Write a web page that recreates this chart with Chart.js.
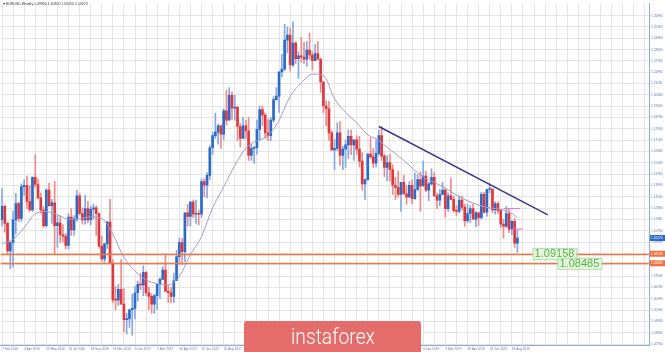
<!DOCTYPE html>
<html lang="en">
<head>
<meta charset="UTF-8">
<title>EURUSD Weekly</title>
<style>
  body{margin:0;background:#fff;}
  .wrap{position:relative;width:665px;height:352px;overflow:hidden;}
  .title{position:absolute;left:3px;top:2px;font:3.5px "Liberation Sans",sans-serif;color:#333;white-space:nowrap;}
  .logo{position:absolute;left:244px;top:321px;width:177px;height:40px;background:#e46c6b;border-radius:3px;text-align:center;}
  .logo span{display:inline-block;color:#fff;font:300 22px Roboto,sans-serif;line-height:31px;transform-origin:center;}
</style>
<script src="https://cdn.jsdelivr.net/npm/chart.js"></script>
</head>
<body>
<div class="wrap">
  <canvas id="c"></canvas>
  <div class="title">&#9662; EURUSD,Weekly  1.09900 1.10850 1.09250 1.10270</div>
  <div class="logo"><span id="logo">instaforex</span></div>
</div>
<script>
"use strict";

// weekly candles, 7 Feb 2016 .. 1 Sep 2019
const opens = [
1.1156,1.1250,1.1130,1.0935,1.0995,1.1155,1.1270,1.1165,1.1390,1.1400,1.1285,1.1225,1.1455,1.1405,1.1310,1.1225,
1.1115,1.1365,1.1255,1.1275,1.1115,1.1135,1.1050,1.1040,1.0975,1.1175,1.1085,1.1160,1.1325,1.1200,1.1155,1.1235,
1.1155,1.1230,1.1240,1.1200,1.0970,1.0880,1.0985,1.1140,1.0850,1.0590,1.0588,1.0665,1.0560,1.0450,1.0455,1.0520,
1.0530,1.0640,1.0700,1.0695,1.0785,1.0640,1.0615,1.0560,1.0620,1.0700,1.0735,1.0800,1.0650,1.0640,1.0615,1.0725,
1.0895,1.0995,1.0930,1.1205,1.1180,1.1280,1.1195,1.1197,1.1195,1.1425,1.1400,1.1470,1.1665,1.1750,1.1775,1.1820,
1.1760,1.1925,1.1860,1.2035,1.1945,1.1950,1.1815,1.1730,1.1820,1.1785,1.1610,1.1660,1.1665,1.1795,1.1935,1.1895,
1.1770,1.1750,1.1860,1.2005,1.2030,1.2200,1.2220,1.2425,1.2460,1.2250,1.2405,1.2295,1.2315,1.2305,1.2290,1.2355,
1.2320,1.2280,1.2330,1.2290,1.2130,1.1960,1.1940,1.1770,1.1650,1.1660,1.1770,1.1610,1.1655,1.1685,1.1745,1.1685,
1.1720,1.1655,1.1570,1.1410,1.1440,1.1620,1.1600,1.1555,1.1625,1.1750,1.1605,1.1525,1.1560,1.1510,1.1400,1.1385,
1.1335,1.1420,1.1340,1.1315,1.1400,1.1305,1.1370,1.1440,1.1395,1.1465,1.1365,1.1410,1.1455,1.1325,1.1295,1.1335,
1.1365,1.1235,1.1325,1.1300,1.1220,1.1215,1.1295,1.1245,1.1150,1.1200,1.1235,1.1160,1.1205,1.1170,1.1335,1.1210,
1.1370,1.1372,1.1225,1.1270,1.1220,1.1125,1.1110,1.1200,1.1090,1.1145,1.0990];
const highs = [
1.1376,1.1260,1.1140,1.1000,1.1218,1.1342,1.1280,1.1410,1.1438,1.1465,1.1400,1.1460,1.1616,1.1445,1.1345,1.1250,
1.1375,1.1415,1.1300,1.1427,1.1185,1.1185,1.1120,1.1060,1.1200,1.1235,1.1185,1.1365,1.1345,1.1240,1.1330,1.1285,
1.1255,1.1265,1.1255,1.1205,1.1040,1.0990,1.1145,1.1300,1.0875,1.0685,1.0700,1.0875,1.0670,1.0495,1.0525,1.0630,
1.0685,1.0720,1.0775,1.0830,1.0790,1.0680,1.0635,1.0630,1.0700,1.0745,1.0825,1.0905,1.0695,1.0680,1.0780,1.0940,
1.1025,1.1025,1.1205,1.1265,1.1285,1.1295,1.1295,1.1225,1.1445,1.1445,1.1490,1.1680,1.1775,1.1910,1.1830,1.1825,
1.1940,1.2070,1.2090,1.2060,1.2035,1.1960,1.1835,1.1880,1.1860,1.1880,1.1690,1.1675,1.1860,1.1960,1.1960,1.1910,
1.1865,1.1880,1.2025,1.2090,1.2205,1.2325,1.2537,1.2520,1.2510,1.2555,1.2415,1.2345,1.2445,1.2410,1.2415,1.2475,
1.2345,1.2395,1.2415,1.2300,1.2130,1.1995,1.1995,1.1785,1.1725,1.1840,1.1850,1.1675,1.1720,1.1790,1.1790,1.1720,
1.1750,1.1745,1.1630,1.1445,1.1625,1.1735,1.1660,1.1720,1.1790,1.1815,1.1620,1.1610,1.1620,1.1545,1.1455,1.1500,
1.1420,1.1470,1.1400,1.1425,1.1440,1.1485,1.1475,1.1495,1.1570,1.1500,1.1420,1.1515,1.1490,1.1345,1.1370,1.1420,
1.1375,1.1345,1.1450,1.1325,1.1255,1.1325,1.1325,1.1265,1.1265,1.1255,1.1265,1.1215,1.1210,1.1350,1.1350,1.1375,
1.1412,1.1375,1.1285,1.1285,1.1230,1.1160,1.1250,1.1230,1.1150,1.1165,1.1085];
const lows = [
1.1112,1.1068,1.0915,1.0810,1.0822,1.1055,1.1145,1.1145,1.1330,1.1235,1.1215,1.1215,1.1385,1.1305,1.1200,1.1100,
1.1105,1.1250,1.1130,1.0912,1.0960,1.0995,1.1000,1.0950,1.0950,1.1045,1.1045,1.1145,1.1190,1.1125,1.1125,1.1135,
1.1120,1.1160,1.1045,1.0955,1.0860,1.0855,1.0950,1.0850,1.0570,1.0520,1.0550,1.0560,1.0365,1.0350,1.0395,1.0340,
1.0455,1.0580,1.0660,1.0620,1.0620,1.0520,1.0495,1.0495,1.0525,1.0600,1.0735,1.0650,1.0570,1.0570,1.0570,1.0725,
1.0840,1.0840,1.0860,1.1110,1.1110,1.1170,1.1130,1.1120,1.1170,1.1315,1.1310,1.1440,1.1615,1.1730,1.1690,1.1660,
1.1720,1.1825,1.1860,1.1865,1.1860,1.1715,1.1670,1.1730,1.1730,1.1575,1.1575,1.1555,1.1620,1.1715,1.1820,1.1730,
1.1715,1.1715,1.1845,1.2000,1.1915,1.2165,1.2210,1.2335,1.2205,1.2235,1.2260,1.2155,1.2270,1.2260,1.2240,1.2290,
1.2215,1.2280,1.2290,1.2055,1.1910,1.1820,1.1715,1.1645,1.1510,1.1645,1.1540,1.1510,1.1525,1.1590,1.1615,1.1575,
1.1615,1.1530,1.1365,1.1300,1.1435,1.1590,1.1525,1.1530,1.1610,1.1575,1.1460,1.1430,1.1430,1.1335,1.1300,1.1315,
1.1215,1.1335,1.1265,1.1315,1.1270,1.1300,1.1360,1.1215,1.1395,1.1355,1.1290,1.1400,1.1320,1.1235,1.1255,1.1335,
1.1175,1.1215,1.1300,1.1210,1.1185,1.1205,1.1225,1.1110,1.1135,1.1135,1.1160,1.1105,1.1115,1.1160,1.1200,1.1180,
1.1345,1.1205,1.1195,1.1200,1.1100,1.1025,1.1100,1.1065,1.1050,1.0960,1.0925];
const closes = [
1.1250,1.1130,1.0935,1.0995,1.1155,1.1270,1.1165,1.1390,1.1400,1.1285,1.1225,1.1455,1.1405,1.1310,1.1225,1.1115,
1.1365,1.1255,1.1275,1.1115,1.1135,1.1050,1.1040,1.0975,1.1175,1.1085,1.1160,1.1325,1.1200,1.1155,1.1235,1.1155,
1.1230,1.1240,1.1200,1.0970,1.0880,1.0985,1.1140,1.0850,1.0590,1.0588,1.0665,1.0560,1.0450,1.0455,1.0520,1.0530,
1.0640,1.0700,1.0695,1.0785,1.0640,1.0615,1.0560,1.0620,1.0700,1.0735,1.0800,1.0650,1.0640,1.0615,1.0725,1.0895,
1.0995,1.0930,1.1205,1.1180,1.1280,1.1195,1.1197,1.1195,1.1425,1.1400,1.1470,1.1665,1.1750,1.1775,1.1820,1.1760,
1.1925,1.1860,1.2035,1.1945,1.1950,1.1815,1.1730,1.1820,1.1785,1.1610,1.1660,1.1665,1.1795,1.1935,1.1895,1.1770,
1.1750,1.1860,1.2005,1.2030,1.2200,1.2220,1.2425,1.2460,1.2250,1.2405,1.2295,1.2315,1.2305,1.2290,1.2355,1.2320,
1.2280,1.2330,1.2290,1.2130,1.1960,1.1940,1.1770,1.1650,1.1660,1.1770,1.1610,1.1655,1.1685,1.1745,1.1685,1.1720,
1.1655,1.1570,1.1410,1.1440,1.1620,1.1600,1.1555,1.1625,1.1750,1.1605,1.1525,1.1560,1.1510,1.1400,1.1385,1.1335,
1.1420,1.1340,1.1315,1.1400,1.1305,1.1370,1.1440,1.1395,1.1465,1.1365,1.1410,1.1455,1.1325,1.1295,1.1335,1.1365,
1.1235,1.1325,1.1300,1.1220,1.1215,1.1295,1.1245,1.1150,1.1200,1.1235,1.1160,1.1205,1.1170,1.1335,1.1210,1.1370,
1.1372,1.1225,1.1270,1.1220,1.1125,1.1110,1.1200,1.1090,1.1145,1.0990,1.1027];

// one date label every 8 weeks
const weekLabels = ["7 Feb 2016","3 Apr 2016","29 May 2016","24 Jul 2016","18 Sep 2016","13 Nov 2016",
  "8 Jan 2017","5 Mar 2017","30 Apr 2017","25 Jun 2017","20 Aug 2017","15 Oct 2017","10 Dec 2017",
  "4 Feb 2018","1 Apr 2018","27 May 2018","22 Jul 2018","16 Sep 2018","11 Nov 2018",
  "6 Jan 2019","3 Mar 2019","28 Apr 2019","23 Jun 2019","18 Aug 2019"];

const yTicks = [1.0278,1.0358,1.0438,1.0518,1.0598,1.0678,1.0758,1.0838,1.0918,1.0998,
  1.1078,1.1158,1.1238,1.1318,1.1398,1.1478,1.1558,1.1638,1.1718,1.1798,
  1.1878,1.1958,1.2038,1.2118,1.2198,1.2278,1.2358,1.2438,1.2518,1.2598];

// moving average
const maWeeks = [0,4,8,12,16,20,24,28,32,36,40,44,48,52,56,60,64,68,72,76,80,84,88,92,96,100,
  104,108,112,116,120,124,128,132,136,140,144,148,152,156,160,164,168,172,176,180,184,186];
const maValues = [1.0988,1.1017,1.1100,1.1198,1.1214,1.1191,1.1161,1.1163,1.1176,1.1165,1.1054,1.0891,
  1.0794,1.0732,1.0704,1.0696,1.0756,1.0910,1.1037,1.1240,1.1388,1.1539,1.1662,1.1715,1.1750,1.1859,
  1.2028,1.2122,1.2185,1.2175,1.2010,1.1915,1.1841,1.1757,1.1715,1.1652,1.1592,1.1522,1.1458,1.1420,
  1.1380,1.1330,1.1290,1.1260,1.1240,1.1230,1.1200,1.1170];

const trendWeeks = [136, 197];
const trendValues = [1.1815, 1.1191];
// short pink marks beside the last candles
const pinkWeeks = [[181, 187], [184, 188]];
const pinkValues = [1.1235, 1.1090];
const levels = [1.09158, 1.08485];
const levelBoxWeek = [191.5, 200.5];
const lastPrice = 1.10270;
const totalWeeks = 234;

const labels = Array.from({length: totalWeeks}, (_, i) => i);
const up = closes.map((c, i) => c >= opens[i]);
const bodyCol = up.map(u => u ? "#2a6acb" : "#e2373a");
const wickCol = up.map(u => u ? "#84a9e2" : "#ef8a8a");

const maData = labels.map(() => null);
maWeeks.forEach((w, i) => { maData[w] = maValues[i]; });
const trendData = labels.map(() => null);
trendWeeks.forEach((w, i) => { trendData[w] = trendValues[i]; });
const pinkSets = pinkWeeks.map((ws, i) => {
  const d = labels.map(() => null);
  ws.forEach(w => { d[w] = pinkValues[i]; });
  return { type: "line", data: d, borderColor: "#e66fd6", borderWidth: 1, pointRadius: 0, spanGaps: true, order: 0 };
});

const tinyFont = { size: 3.2, family: "'Liberation Sans', sans-serif" };

const extras = {
  id: "extras",
  afterDatasetsDraw(chart) {
    const ctx = chart.ctx, y = chart.scales.y, x = chart.scales.x, a = chart.chartArea;
    ctx.save();
    ctx.strokeStyle = "#f0754a";
    ctx.lineWidth = 1.5;
    levels.forEach(v => {
      const py = Math.round(y.getPixelForValue(v)) + 0.5;
      ctx.beginPath(); ctx.moveTo(a.left, py); ctx.lineTo(a.right, py); ctx.stroke();
    });
    ctx.font = "11px 'Liberation Sans', sans-serif";
    ctx.textBaseline = "middle";
    levels.forEach((v, i) => {
      const py = y.getPixelForValue(v);
      const px = x.getPixelForValue(levelBoxWeek[i]);
      const t = v.toFixed(5), w = ctx.measureText(t).width + 4;
      ctx.fillStyle = "rgba(232,248,226,0.9)";
      ctx.fillRect(px, py - 5.5, w, 11);
      ctx.strokeStyle = "#a9dc9c"; ctx.lineWidth = 1;
      ctx.strokeRect(px + 0.5, py - 5, w, 11);
      ctx.fillStyle = "#52b548";
      ctx.fillText(t, px + 2, py + 0.5);
    });
    ctx.restore();
  },
  afterDraw(chart) {
    const ctx = chart.ctx, y = chart.scales.y, a = chart.chartArea;
    ctx.save();
    ctx.font = "3.2px 'Liberation Sans', sans-serif";
    ctx.textBaseline = "middle";
    const box = (v, col) => {
      const py = y.getPixelForValue(v);
      ctx.fillStyle = col;
      ctx.fillRect(a.right + 1, py - 3, 15, 6);
      ctx.fillStyle = "#fff";
      ctx.fillText(v.toFixed(5), a.right + 2, py);
    };
    box(lastPrice, "#2a6acb");
    levels.forEach(v => box(v, "#f0703e"));
    ctx.restore();
  }
};

new Chart(document.getElementById("c"), {
  type: "bar",
  data: {
    labels: labels,
    datasets: [
      { type: "line", data: trendData, borderColor: "#3d3a8e", borderWidth: 1.5, pointRadius: 0, spanGaps: true, order: 0 },
      ...pinkSets,
      { type: "line", data: maData, borderColor: "#a49cc4", borderWidth: 1, pointRadius: 0, spanGaps: true,
        cubicInterpolationMode: "monotone", order: 1 },
      { data: opens.map((o, i) => [o, closes[i]]), backgroundColor: bodyCol, barThickness: 2,
        minBarLength: 1, grouped: false, order: 2 },
      { data: lows.map((l, i) => [l, highs[i]]), backgroundColor: wickCol, barThickness: 1,
        grouped: false, order: 3 }
    ]
  },
  options: {
    responsive: true,
    maintainAspectRatio: false,
    animation: false,
    events: [],
    layout: { padding: { top: 2, left: 0, right: 0, bottom: 0 } },
    plugins: { legend: { display: false }, tooltip: { enabled: false } },
    scales: {
      x: {
        offset: true,
        grid: { offset: false, color: "#e4e4e4", drawTicks: false },
        border: { color: "#8fa9d8" },
        ticks: {
          autoSkip: false, maxRotation: 0, minRotation: 0, align: "start", padding: 2,
          color: "#5d79ad", font: tinyFont,
          callback: (v, i) => {
            if (i % 8 === 0 && i / 8 < weekLabels.length) return weekLabels[i / 8];
            if (i % 4 === 0) return "";
            return null;
          }
        },
        afterFit: s => { s.height = 7; }
      },
      y: {
        position: "right",
        min: 1.0271,
        max: 1.2681,
        afterBuildTicks: s => { s.ticks = yTicks.map(v => ({ value: v })); },
        grid: { color: "#e4e4e4", drawTicks: false },
        border: { color: "#8fa9d8" },
        ticks: { padding: 2, color: "#5d79ad", font: tinyFont, callback: v => v.toFixed(5) },
        afterFit: s => { s.width = 16; }
      }
    }
  },
  plugins: [extras]
});

// squeeze the logo word to the width it has in the picture
const logo = document.getElementById("logo");
logo.style.transform = "scaleX(" + (84 / logo.offsetWidth).toFixed(3) + ")";
</script>
</body>
</html>
